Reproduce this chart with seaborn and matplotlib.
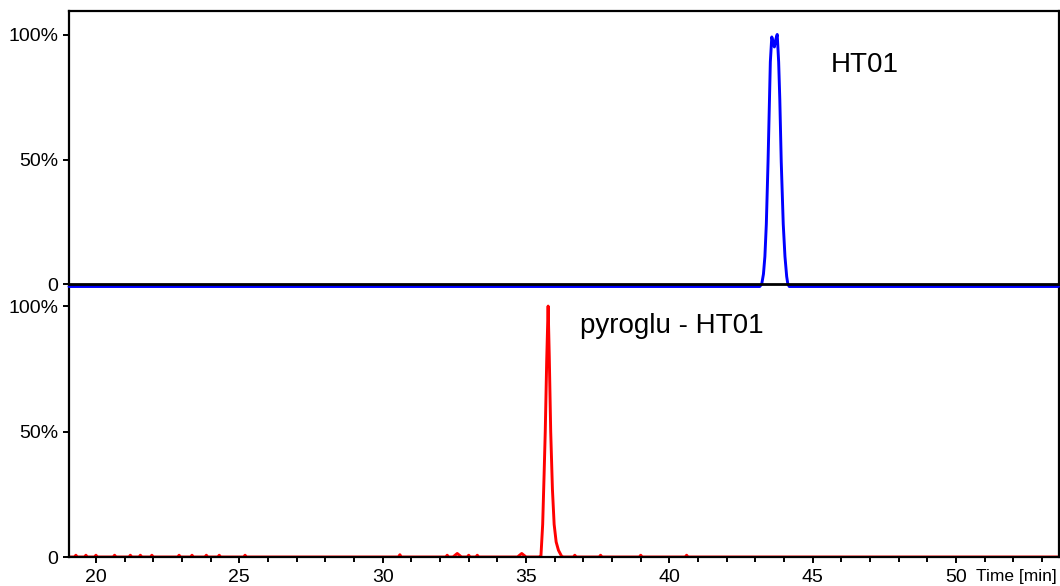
import matplotlib
matplotlib.use("Agg")
import matplotlib.pyplot as plt
import matplotlib.transforms as mtransforms
from matplotlib.ticker import MultipleLocator, FixedLocator
import seaborn as sns

# ---------------- data ----------------
ht01_time = [19.06, 43.15, 43.22, 43.28, 43.33, 43.38, 43.44, 43.49, 43.52,
             43.57, 43.62, 43.66, 43.71, 43.76, 43.81, 43.85, 43.90, 43.97,
             44.03, 44.09, 44.13, 44.18, 53.57]
ht01_intensity = [0, 0, 1, 5, 12, 25, 50, 75, 90,
                  100, 98, 96, 99, 101, 90, 75, 50, 25,
                  12, 4, 1, 0, 0]

pyro_time = [19.06, 19.25, 19.30, 19.35, 19.60, 19.65, 19.70, 19.95, 20.00, 20.05,
             20.60, 20.65, 20.70, 21.15, 21.20, 21.25, 21.50, 21.55, 21.60,
             21.90, 21.95, 22.00, 22.85, 22.90, 22.95, 23.30, 23.35, 23.40,
             23.80, 23.85, 23.90, 24.25, 24.30, 24.35, 25.15, 25.20, 25.25,
             30.55, 30.60, 30.65, 32.20, 32.25, 32.30, 32.45, 32.60, 32.75,
             32.95, 33.00, 33.05, 33.25, 33.30, 33.35, 34.70, 34.85, 35.00,
             35.45, 35.52, 35.58, 35.63, 35.67, 35.72, 35.77, 35.81, 35.86,
             35.92, 35.98, 36.05, 36.13, 36.24, 36.30,
             36.65, 36.70, 36.75, 37.55, 37.60, 37.65, 38.95, 39.00, 39.05,
             40.55, 40.60, 40.65, 53.57]
pyro_intensity = [0, 0, 0.7, 0, 0, 0.7, 0, 0, 0.7, 0,
                  0, 0.7, 0, 0, 0.7, 0, 0, 0.7, 0,
                  0, 0.7, 0, 0, 0.7, 0, 0, 0.7, 0,
                  0, 0.7, 0, 0, 0.7, 0, 0, 0.7, 0,
                  0, 0.9, 0, 0, 0.7, 0, 0, 1.4, 0,
                  0, 0.7, 0, 0, 0.7, 0, 0, 1.4, 0,
                  0, 0.5, 13, 33, 50, 78, 100, 80, 50,
                  27, 13, 6, 2.7, 0.3, 0,
                  0, 0.7, 0, 0, 0.7, 0, 0, 0.7, 0,
                  0, 0.7, 0, 0]

x_ticks = [20, 25, 30, 35, 40, 45, 50]
y_ticks = [0, 50, 100]
y_ticklabels = ["0", "50%", "100%"]
labels = ["HT01", "pyroglu - HT01"]
x_title = "Time [min]"

# ---------------- style ----------------
sns.set_theme(style="ticks")
plt.rcParams["font.family"] = ["Liberation Sans", "DejaVu Sans"]
plt.rcParams["axes.edgecolor"] = "black"
plt.rcParams["axes.linewidth"] = 1.5

fig = plt.figure(figsize=(10.6, 5.86), dpi=100)
L, R = 69 / 1060, 1058.5 / 1060
ax_bot = fig.add_axes([L, 1 - 557 / 586, R - L, (557 - 284.5) / 586])
ax_top = fig.add_axes([L, 1 - 284.5 / 586, R - L, (284.5 - 11) / 586])
ax_top.set_zorder(2)
ax_top.patch.set_alpha(0)

xlim = (19.06, 53.57)

# top trace (slightly shifted so it shows just under the axis line)
blue_tr = mtransforms.offset_copy(ax_top.transData, fig=fig, y=-2.0, units="dots")
sns.lineplot(x=ht01_time, y=ht01_intensity, ax=ax_top, color="#0000ff",
             linewidth=2.1, sort=False, estimator=None, transform=blue_tr,
             clip_on=False, zorder=1)
sns.lineplot(x=pyro_time, y=pyro_intensity, ax=ax_bot, color="#ff0000",
             linewidth=2.1, sort=False, estimator=None, zorder=1)

for ax, top in ((ax_top, 109.6), (ax_bot, 108.6)):
    ax.set_xlim(*xlim)
    ax.set_ylim(0, top)
    ax.set_yticks(y_ticks)
    ax.set_yticklabels(y_ticklabels)
    ax.tick_params(axis="y", direction="out", length=4.3, width=1.4,
                   pad=3.5, labelsize=14, colors="black")
    ax.set_xlabel("")
    ax.set_ylabel("")
    for s in ax.spines.values():
        s.set_visible(True)
        s.set_color("black")
        s.set_linewidth(1.6)
        s.set_zorder(3)

ax_bot.set_facecolor("white")
ax_top.tick_params(axis="x", which="both", bottom=False, labelbottom=False)
ax_top.spines["bottom"].set_zorder(5)
ax_top.spines["bottom"].set_linewidth(2.0)

ax_bot.xaxis.set_major_locator(FixedLocator(x_ticks))
ax_bot.xaxis.set_minor_locator(MultipleLocator(1))
ax_bot.tick_params(axis="x", which="major", direction="out", length=4.3,
                   width=1.4, pad=4.5, labelsize=14, colors="black")
ax_bot.tick_params(axis="x", which="minor", direction="out", length=3.5,
                   width=1.4, colors="black")
ax_bot.spines["top"].set_visible(False)

ax_top.text(45.64, 85.0, labels[0], fontsize=20, ha="left", va="baseline",
            color="black")
ax_bot.text(36.88, 89.2, labels[1], fontsize=20, ha="left", va="baseline",
            color="black")

tr = mtransforms.blended_transform_factory(ax_bot.transData, ax_bot.transAxes)
ax_bot.text(50.70, -0.043, x_title, transform=tr, fontsize=12.5,
            ha="left", va="top", color="black")

fig.savefig("out.png", dpi=100, facecolor="white")
